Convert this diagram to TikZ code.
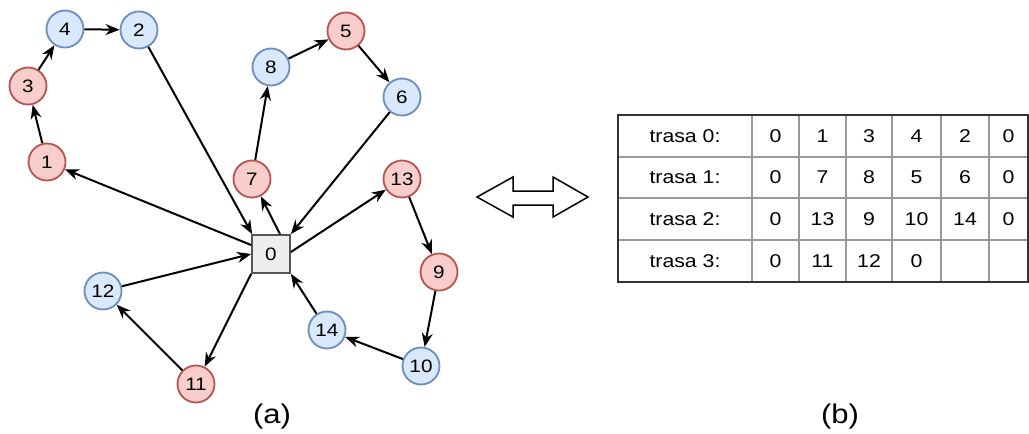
\documentclass[tikz,border=0pt]{standalone}
\usepackage{fontspec}
\setmainfont[FakeStretch=1.15]{Liberation Sans}
\usetikzlibrary{arrows.meta}
\definecolor{redfill}{HTML}{F8CECC}
\definecolor{redline}{HTML}{B85450}
\definecolor{bluefill}{HTML}{DAE8FC}
\definecolor{blueline}{HTML}{6C8EBF}
\definecolor{grayfill}{HTML}{EEEEEE}
\definecolor{grayline}{HTML}{555555}
\definecolor{gridline}{HTML}{999999}
\definecolor{frameline}{HTML}{333333}
\tikzset{
  rnode/.style={circle, draw=redline, fill=redfill, line width=1.8pt, minimum size=37pt, inner sep=0pt, font=\fontsize{18}{20}\selectfont},
  bnode/.style={circle, draw=blueline, fill=bluefill, line width=1.8pt, minimum size=37pt, inner sep=0pt, font=\fontsize{18}{20}\selectfont},
  depot/.style={rectangle, draw=grayline, fill=grayfill, line width=1.8pt, minimum size=38pt, inner sep=0pt, font=\fontsize{18}{20}\selectfont},
  conn/.style={line width=2pt, -{Stealth[length=14pt,width=11pt,inset=4.5pt]}},
  celltext/.style={font=\fontsize{18.5}{20}\selectfont},
  captext/.style={font=\fontsize{27}{30}\selectfont}
}
\begin{document}
\begin{tikzpicture}[x=1pt,y=-1pt]
\useasboundingbox (0,0) rectangle (1029,434);
% nodes
\node[depot] (n0) at (271,254) {0};
\node[rnode] (n1) at (47,162) {1};
\node[bnode] (n2) at (139,30) {2};
\node[rnode] (n3) at (28,86) {3};
\node[bnode] (n4) at (65,29) {4};
\node[rnode] (n5) at (346,31) {5};
\node[bnode] (n6) at (402,97) {6};
\node[rnode] (n7) at (252,179) {7};
\node[bnode] (n8) at (271,67) {8};
\node[rnode] (n9) at (439,272) {9};
\node[bnode] (n10) at (421,366) {10};
\node[rnode] (n11) at (196,384) {11};
\node[bnode] (n12) at (103,291) {12};
\node[rnode] (n13) at (402,179) {13};
\node[bnode] (n14) at (327,330) {14};
% edges
\draw[conn] (n1) -- (n3);
\draw[conn] (n3) -- (n4);
\draw[conn] (n4) -- (n2);
\draw[conn] (n2) -- ([xshift=1pt]n0.north west);
\draw[conn] ([yshift=9pt]n0.west) -- (n1);
\draw[conn] ([xshift=9pt]n0.north) -- (n7);
\draw[conn] (n7) -- (n8);
\draw[conn] (n8) -- (n5);
\draw[conn] (n5) -- (n6);
\draw[conn] (n6) -- (n0.north east);
\draw[conn] ([yshift=2pt]n0.east) -- (n13);
\draw[conn] (n13) -- (n9);
\draw[conn] (n9) -- (n10);
\draw[conn] (n10) -- (n14);
\draw[conn] (n14) -- (n0.south east);
\draw[conn] (n0.south west) -- (n11);
\draw[conn] (n11) -- (n12);
\draw[conn] (n12) -- (n0.west);
% double arrow
\draw[line width=1.5pt, line join=miter] (477,197) -- (513,177) -- (513,191) -- (553,191) -- (553,177) -- (588,197) -- (553,217) -- (553,205) -- (513,205) -- (513,217) -- cycle;
% table grid
\foreach \x in {752,799,846,892,941,989} \draw[gridline, line width=1.6pt] (\x,115) -- (\x,282);
\foreach \y in {157,198,240} \draw[gridline, line width=1.6pt] (618,\y) -- (1028,\y);
\draw[frameline, line width=2.2pt] (618,115) rectangle (1027.9,282);
% table texts
\node[celltext] (r0) at (685,136) {trasa 0:};
\node[celltext] (r1) at (685,177) {trasa 1:};
\node[celltext] (r2) at (685,219) {trasa 2:};
\node[celltext] (r3) at (685,261) {trasa 3:};
\node[celltext] (c00) at (775.5,136) {0};
\node[celltext] (c01) at (822.5,136) {1};
\node[celltext] (c02) at (869,136) {3};
\node[celltext] (c03) at (916.5,136) {4};
\node[celltext] (c04) at (965,136) {2};
\node[celltext] (c05) at (1008.5,136) {0};
\node[celltext] (c10) at (775.5,177) {0};
\node[celltext] (c11) at (822.5,177) {7};
\node[celltext] (c12) at (869,177) {8};
\node[celltext] (c13) at (916.5,177) {5};
\node[celltext] (c14) at (965,177) {6};
\node[celltext] (c15) at (1008.5,177) {0};
\node[celltext] (c20) at (775.5,219) {0};
\node[celltext] (c21) at (822.5,219) {13};
\node[celltext] (c22) at (869,219) {9};
\node[celltext] (c23) at (916.5,219) {10};
\node[celltext] (c24) at (965,219) {14};
\node[celltext] (c25) at (1008.5,219) {0};
\node[celltext] (c30) at (775.5,261) {0};
\node[celltext] (c31) at (822.5,261) {11};
\node[celltext] (c32) at (869,261) {12};
\node[celltext] (c33) at (916.5,261) {0};
% captions
\node[captext] (capa) at (272,417) {(a)};
\node[captext] (capb) at (840,417) {(b)};
\end{tikzpicture}
\end{document}
